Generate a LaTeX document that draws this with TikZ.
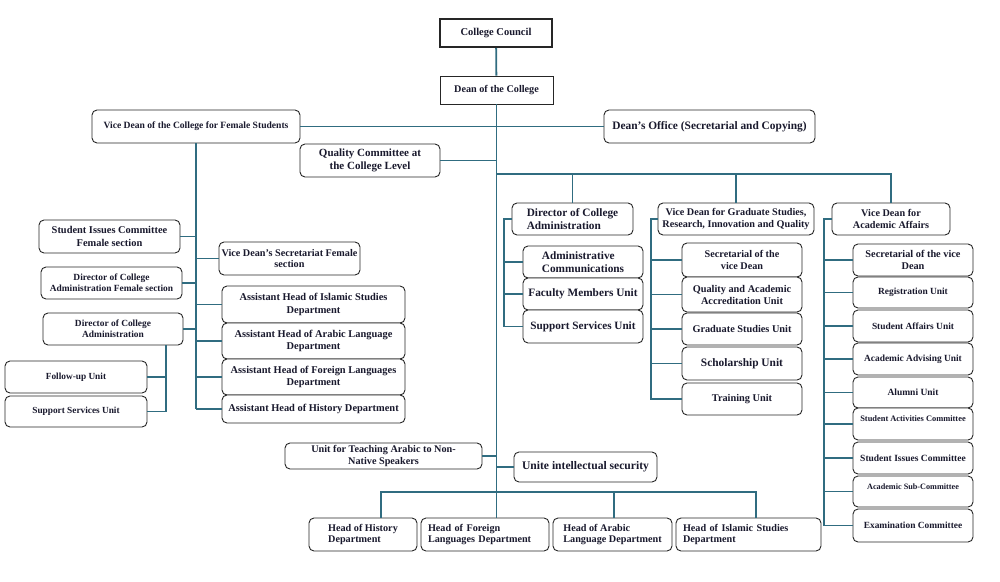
\documentclass[tikz,border=0pt]{standalone}
\usepackage{fontspec}
\setmainfont{Liberation Serif}
\definecolor{linec}{RGB}{48,108,128}
\definecolor{txt}{RGB}{25,25,45}
\tikzset{
 box/.style={draw=black!85, line width=0.9pt, rounded corners=5pt, fill=white, align=center, inner sep=1pt, text=txt},
 sharp/.style={rounded corners=0pt},
 fs/.style={font=\fontsize{#1}{1.17\dimexpr#1pt\relax}\selectfont\bfseries},
 conn/.style={draw=linec, line width=1.8pt},
}
\newcommand\bx[7][]{\node[box,fs=10,#1,minimum width={(#4-#2)*1pt},minimum height={(#5-#3)*1pt}] (#6) at ({(#2+#4)/2},{(#3+#5)/2}) {#7};}
\begin{document}
\begin{tikzpicture}[x={(1pt,0pt)},y={(0pt,-1pt)}]
\useasboundingbox (0,0) rectangle (1000,581);
% top
\bx[sharp,line width=2pt,fs=10.5]{440}{19}{552}{47}{cc}{College Council}
\bx[sharp,fs=10.2]{440}{76}{553}{104}{dean}{Dean of the College}
\bx[fs=9.6]{92}{110}{300}{143}{vdf}{Vice Dean of the College for Female Students}
\bx[fs=11.4]{604}{110}{815}{143}{dof}{Dean's Office (Secretarial and Copying)}
\bx[fs=11]{300}{144}{440}{177}{qc}{Quality Committee at\\the College Level}
% middle: director of college administration
\bx[fs=11.3,align=left]{512}{203}{633}{235}{dca}{Director of College\\Administration}
\bx[fs=11.3,align=left]{523}{246}{643}{278}{ac}{Administrative\\Communications}
\bx[fs=11.3]{523}{278}{643}{310}{fmu}{Faculty Members Unit}
\bx[fs=11.2]{523}{310}{643}{343}{ssm}{Support Services Unit}
% graduate studies
\bx[fs=10.2]{658}{203}{814}{235}{vdg}{Vice Dean for Graduate Studies,\\Research, Innovation and Quality}
\bx[fs=10.2]{682}{243}{802}{277}{ga}{Secretarial of the\\vice Dean}
\bx[fs=10.3]{682}{277}{802}{312}{gb}{Quality and Academic\\Accreditation Unit}
\bx[fs=10.3]{682}{313}{802}{345}{gc}{Graduate Studies Unit}
\bx[fs=11.4]{682}{347}{802}{380}{gd}{Scholarship Unit}
\bx[fs=10.3]{682}{383}{802}{415}{ge}{Training Unit}
% academic affairs
\bx[fs=10.2]{832}{203}{950}{235}{vda}{Vice Dean for\\Academic Affairs}
\bx[fs=10.3]{853}{244}{973}{276}{aa}{Secretarial of the vice\\Dean}
\bx[fs=9.4]{853}{277}{973}{308}{ab}{Registration Unit}
\bx[fs=9.4]{853}{310}{973}{342}{ac2}{Student Affairs Unit}
\bx[fs=9.4]{853}{343}{973}{375}{ad}{Academic Advising Unit}
\bx[fs=9.5]{853}{377}{973}{408}{ae}{Alumni Unit}
\bx[fs=8.4,text height=6pt,text depth=12pt]{853}{408}{973}{440}{af}{Student Activities Committee}
\bx[fs=9.5]{853}{442}{973}{474}{ag}{Student Issues Committee}
\bx[fs=8.2,text height=6pt,text depth=10pt]{853}{476}{973}{507}{ah}{Academic Sub-Committee}
\bx[fs=9.4]{853}{509}{973}{542}{ai}{Examination Committee}
% left side
\bx[fs=10.4]{39}{220}{180}{253}{sif}{Student Issues Committee\\Female section}
\bx[fs=10.2]{219}{242}{360}{275}{vds}{Vice Dean's Secretariat Female\\section}
\bx[fs=9.4]{41}{267}{182}{299}{dcf}{Director of College\\Administration Female section}
\bx[fs=9.4]{43}{313}{183}{345}{dcl}{Director of College\\Administration}
\bx[fs=9.3]{5}{361}{147}{393}{fu}{Follow-up Unit}
\bx[fs=9.3]{5}{396}{147}{427}{ssl}{Support Services Unit}
\bx[fs=10.4]{222}{286}{405}{323}{ha}{Assistant Head of Islamic Studies\\Department}
\bx[fs=10.4]{222}{323}{405}{359}{hb}{Assistant Head of Arabic Language\\Department}
\bx[fs=10.4]{222}{359}{405}{395}{hc}{Assistant Head of Foreign Languages\\Department}
\bx[fs=10.4]{222}{395}{405}{423}{hd}{Assistant Head of History Department}
% bottom
\bx[fs=10.2]{285}{443}{482}{469}{uta}{Unit for Teaching Arabic to Non-\\Native Speakers}
\bx[fs=11.6]{514}{452}{657}{482}{uis}{Unite intellectual security}
\bx[fs=10.2,align=left]{309}{518}{417}{551}{hh}{Head of History\\Department}
\bx[fs=10.2,align=left,text width=114pt,inner xsep=7pt]{421}{518}{549}{551}{hf}{Head of Foreign\\Languages Department}
\bx[fs=10.2,align=left]{553}{518}{672}{551}{har}{Head of Arabic\\Language Department}
\bx[fs=10.2,align=left,text width=131pt,inner xsep=7pt]{676}{518}{821}{551}{his}{Head of Islamic Studies\\Department}
% connectors
\coordinate (busA) at (496.5,174);
\coordinate (mx) at (504,0);
\coordinate (gx) at (651,0);
\coordinate (ax) at (824,0);
\coordinate (lx) at (166,0);
\coordinate (bb1) at (381,492);
\coordinate (bb2) at (756,492);
\coordinate (bb3) at (614,492);
\draw[conn] (cc) -- (dean);
\draw[conn] (dean.south) -- (dean.south |- hf.north);
\draw[conn] (vdf) -- (dof);
\draw[conn] (qc.east) -- (qc.east -| dean.south);
\draw[conn] (busA) -| (vda.north);
\draw[conn] (dca.north) -- (dca.north |- busA);
\draw[conn] (vdg.north) -- (vdg.north |- busA);
% middle subtree
\draw[conn] (dca.west) -| (ssm.west -| mx) -- (ssm.west);
\draw[conn] (ac.west -| mx) -- (ac.west);
\draw[conn] (fmu.west -| mx) -- (fmu.west);
% graduate subtree
\draw[conn] (vdg.west) -| (ge.west -| gx) -- (ge.west);
\foreach \n in {ga,gb,gc,gd} \draw[conn] (\n.west -| gx) -- (\n.west);
% academic subtree
\draw[conn] (vda.west) -| (ai.west -| ax) -- (ai.west);
\foreach \n in {aa,ab,ac2,ad,ae,af,ag,ah} \draw[conn] (\n.west -| ax) -- (\n.west);
% left subtree
\draw[conn] (vdf.south) -- (vdf.south |- hd.west);
\foreach \n in {sif,dcf,dcl} \draw[conn] (\n.east) -- (\n.east -| vdf.south);
\foreach \n in {vds,ha,hb,hc,hd} \draw[conn] (\n.west) -- (\n.west -| vdf.south);
\draw[conn] (dcl.south -| lx) -- (ssl.east -| lx) -- (ssl.east);
\draw[conn] (fu.east) -- (fu.east -| lx);
% bottom
\draw[conn] (uta.east) -- (uta.east -| dean.south);
\draw[conn] (uis.west) -- (uis.west -| dean.south);
\draw[conn] (hh.north -| bb1) -- (bb1) -- (bb2) -- (his.north -| bb2);
\draw[conn] (bb3) -- (har.north -| bb3);
\end{tikzpicture}
\end{document}
